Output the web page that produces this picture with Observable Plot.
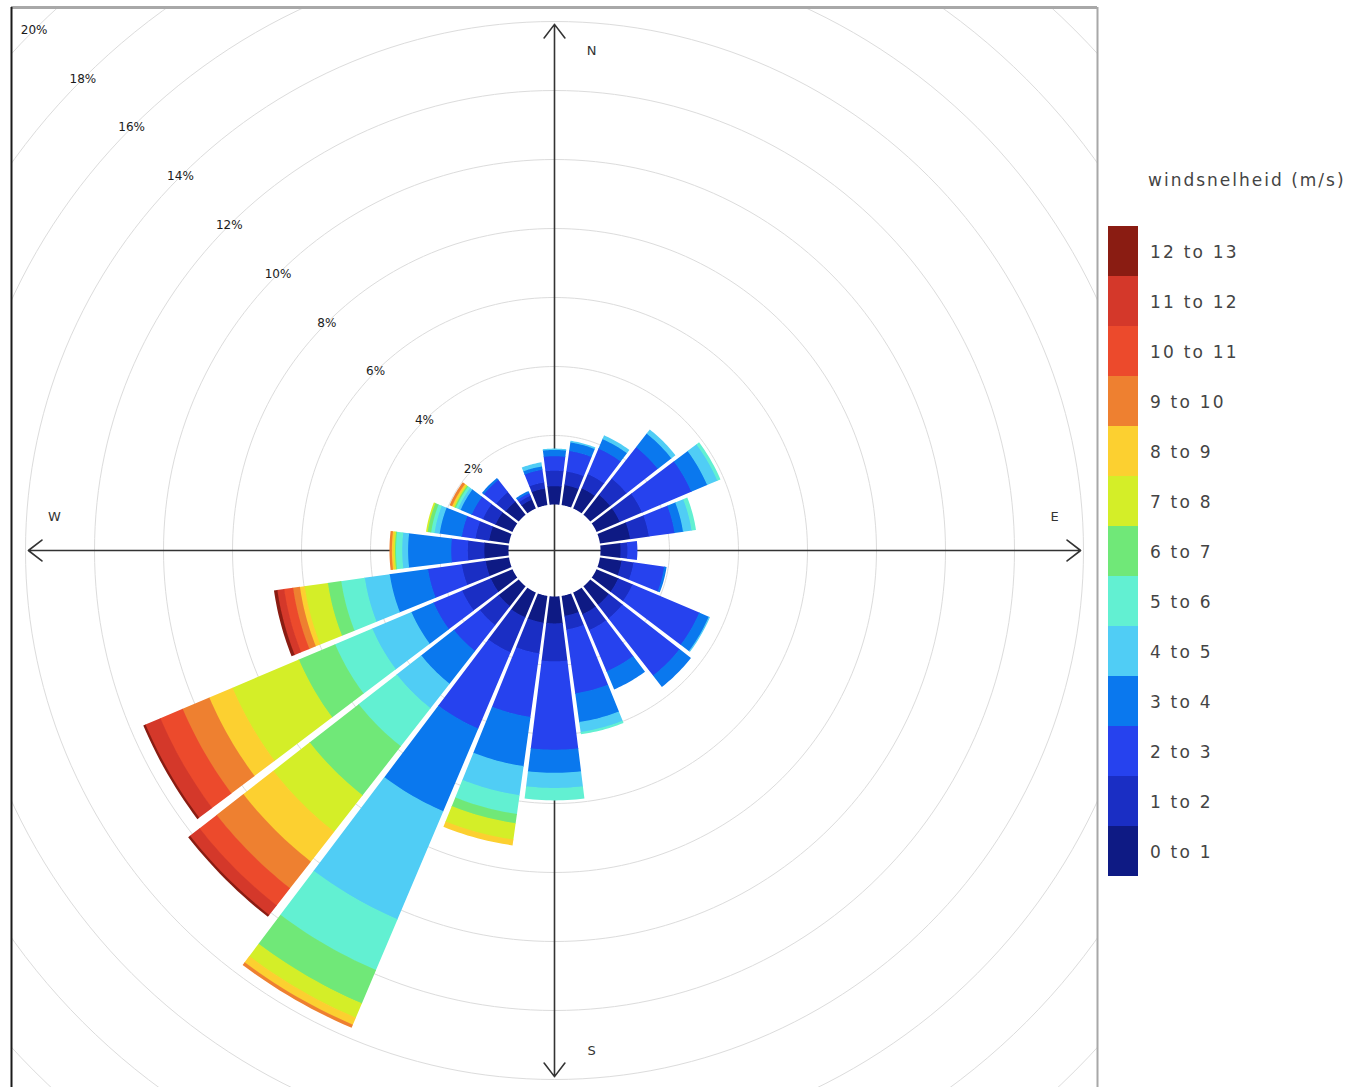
<!DOCTYPE html>
<html>
<head>
<meta charset="utf-8">
<script src="https://cdn.jsdelivr.net/npm/d3@7"></script>
<script src="https://cdn.jsdelivr.net/npm/@observablehq/plot@0.6"></script>
<style>
  html, body { margin: 0; padding: 0; background: #fff; }
  #wrap { position: relative; width: 1350px; height: 1087px; overflow: hidden; font-family: "DejaVu Sans", sans-serif; }
  #chart { position: absolute; left: 0; top: 0; }
  #legend { position: absolute; left: 0; top: 0; width: 1350px; height: 1087px; pointer-events: none; }
  .lg-title { position: absolute; left: 1148px; top: 172px; font-size: 17px; letter-spacing: 2px; color: #444; white-space: nowrap; line-height: 1; }
  .lg-box { position: absolute; left: 1108px; width: 30px; height: 50px; }
  .lg-lab { position: absolute; left: 1150px; font-size: 17px; letter-spacing: 2.2px; color: #444; white-space: nowrap; line-height: 1; }
</style>
</head>
<body>
<div id="wrap"><div id="chart"></div><div id="legend"></div></div>
<script>
// ---------------- data ----------------
const directions = [15,30,45,60,75,90,105,120,135,150,165,180,195,210,225,240,255,270,285,300,315,330,345,360];
const speedBins = ["0 to 1","1 to 2","2 to 3","3 to 4","4 to 5","5 to 6","6 to 7","7 to 8","8 to 9","9 to 10","10 to 11","11 to 12","12 to 13"];
const binColors = ["#0e1a84","#1a2ec4","#2642ee","#0a78ee","#50cdf5","#62f0d2","#70e878","#d4ee28","#fcd030","#ee8030","#ec4a2c","#d4382a","#8a1c12"];

// frequency (%) per direction, one array per speed bin
const freq0to1   = [0.6,0.65,0.75,0.75,0.9,0.6,0.65,0.7,0.7,0.7,0.6,0.8,0.8,0.8,0.75,0.7,0.7,0.72,0.6,0.55,0.5,0.3,0.5,0.55];
const freq1to2   = [0.4,0.45,0.6,0.7,0.55,0.2,0.35,0.45,0.5,0.5,0.4,1.1,0.9,1.1,0.7,0.9,0.7,0.48,0.4,0.4,0.35,0.12,0.18,0.45];
const freq2to3   = [0.6,0.8,1.15,1.55,0.75,0.27,0.9,2.1,2.1,1.3,1.87,2.56,1.86,2.4,0.95,0.9,0.99,0.48,0.4,0.35,0.45,0.08,0.37,0.42];
const freq3to4   = [0.25,0.3,0.5,0.5,0.25,0,0.05,0.3,0.4,0.55,0.84,0.67,1.44,2.6,1.2,0.7,1.12,1.25,0.65,0.35,0.05,0.05,0.1,0.18];
const freq4to5   = [0.03,0.1,0.13,0.32,0.25,0,0,0.02,0,0,0.29,0.44,0.85,3.4,0.9,1.23,0.73,0.17,0.15,0.08,0,0,0.1,0.02];
const freq5to6   = [0,0,0,0.08,0.11,0,0,0,0,0,0.05,0.34,0.55,1.6,1.4,1.17,0.69,0.18,0.1,0.07,0,0,0,0];
const freq6to7   = [0,0,0,0,0,0,0,0,0,0,0,0,0.27,1.05,1.8,1.14,0.39,0.03,0.1,0.04,0,0,0,0];
const freq7to8   = [0,0,0,0,0,0,0,0,0,0,0,0,0.48,0.45,1.34,2.09,0.68,0.04,0.03,0.03,0,0,0,0];
const freq8to9   = [0,0,0,0,0,0,0,0,0,0,0,0,0.15,0.22,1.1,0.73,0.14,0.05,0,0.05,0,0,0,0];
const freq9to10  = [0,0,0,0,0,0,0,0,0,0,0,0,0,0.08,0.98,0.84,0.2,0.05,0,0.06,0,0,0,0];
const freq10to11 = [0,0,0,0,0,0,0,0,0,0,0,0,0,0,0.63,0.7,0.26,0,0,0,0,0,0,0];
const freq11to12 = [0,0,0,0,0,0,0,0,0,0,0,0,0,0,0.35,0.47,0.2,0,0,0,0,0,0,0];
const freq12to13 = [0,0,0,0,0,0,0,0,0,0,0,0,0,0,0.05,0.05,0.08,0,0,0,0,0,0,0];

const percentTicks = [2,4,6,8,10,12,14,16,18,20];
const compass = [{label:"N", angle:0},{label:"E", angle:90},{label:"S", angle:180},{label:"W", angle:270}];
const legendTitle = "windsnelheid (m/s)";

// ---------------- layout ----------------
const W = 1100, H = 1087;
const CX = 554, CY = 550;          // centre of the rose, px
const UNIT = 34.5;                 // px per 1 %
const mL = 11, mR = 3, mT = 7, mB = 0;
const HOLE = 46 / UNIT;            // inner offset, in % units
const HALF = (7.5 - 0.45) * Math.PI / 180;
const HALFGAP = 0.75 / UNIT;
const AXIS_LEN = 15.25;
const rad = d => d * Math.PI / 180;

const freqByBin = [freq0to1,freq1to2,freq2to3,freq3to4,freq4to5,freq5to6,freq6to7,freq7to8,freq8to9,freq9to10,freq10to11,freq11to12,freq12to13];

// stacked segments
const segments = [];
directions.forEach((dir, i) => {
  let cum = 0;
  freqByBin.forEach((arr, b) => {
    const v = arr[i];
    if (v > 0) { segments.push({dir, bin: speedBins[b], p0: cum, p1: cum + v}); cum += v; }
  });
});

// wedge polygons in data (percent) space
const wedgePts = [];
segments.forEach((s, id) => {
  const r0 = HOLE + Math.max(0, s.p0 - 0.02), r1 = HOLE + s.p1;
  const t = rad(s.dir);
  const d1 = Math.asin(HALFGAP / r1), d0 = Math.asin(HALFGAP / r0);
  const n = 14;
  for (let k = 0; k <= n; k++) {
    const a = t - HALF + d1 + (2 * HALF - 2 * d1) * k / n;
    wedgePts.push({id, bin: s.bin, x: r1 * Math.sin(a), y: r1 * Math.cos(a)});
  }
  for (let k = n; k >= 0; k--) {
    const a = t - HALF + d0 + (2 * HALF - 2 * d0) * k / n;
    wedgePts.push({id, bin: s.bin, x: r0 * Math.sin(a), y: r0 * Math.cos(a)});
  }
});

// grid circles
const circlePts = percentTicks.flatMap(p => d3.range(0, 361, 1.5).map(a => ({
  p, x: (HOLE + p) * Math.sin(rad(a)), y: (HOLE + p) * Math.cos(rad(a))
})));

const tickLabels = percentTicks.map(p => ({
  text: p + "%", x: -(HOLE + p) * Math.SQRT1_2, y: (HOLE + p) * Math.SQRT1_2
}));

const axes = compass.map(c => ({x2: AXIS_LEN * Math.sin(rad(c.angle)), y2: AXIS_LEN * Math.cos(rad(c.angle))}));
const LABR = 500 / UNIT;
const nsLabels = compass.filter(c => c.angle % 180 === 0).map(c => ({label: c.label, x: 0, y: LABR * Math.cos(rad(c.angle))}));
const ewLabels = compass.filter(c => c.angle % 180 !== 0).map(c => ({label: c.label, x: LABR * Math.sin(rad(c.angle)), y: 0}));

const xDom = [(mL - CX) / UNIT, (W - mR - CX) / UNIT];
const yDom = [(CY - (H - mB)) / UNIT, (CY - mT) / UNIT];

const chart = Plot.plot({
  width: W, height: H,
  marginLeft: mL, marginRight: mR, marginTop: mT, marginBottom: mB,
  style: {fontFamily: "DejaVu Sans, sans-serif", background: "white", overflow: "visible"},
  x: {domain: xDom, axis: null},
  y: {domain: yDom, axis: null},
  color: {type: "ordinal", domain: speedBins, range: binColors, legend: false},
  marks: [
    Plot.line(circlePts, {x: "x", y: "y", z: "p", stroke: "#dcdcdc", strokeWidth: 1, clip: true}),
    Plot.arrow(axes, {x1: d => 0, y1: d => 0, x2: "x2", y2: "y2", stroke: "#333", strokeWidth: 1.6, headLength: 16, headAngle: 75, insetStart: 0, insetEnd: 0}),
    Plot.line(wedgePts, {x: "x", y: "y", z: "id", fill: "bin", stroke: "none", curve: "linear-closed"}),
    Plot.text(tickLabels, {x: "x", y: "y", text: "text", fill: "#1a1a1a", fontSize: 12}),
    Plot.text(nsLabels, {x: "x", y: "y", text: "label", dx: 37, fill: "#333", fontSize: 13}),
    Plot.text(ewLabels, {x: "x", y: "y", text: "label", dy: -34, fill: "#333", fontSize: 13}),
    Plot.ruleY([yDom[1]], {stroke: "#a8a8a8", strokeWidth: 3}),
    Plot.ruleX([xDom[0]], {stroke: "#1a1a1a", strokeWidth: 2}),
    Plot.ruleX([xDom[1]], {stroke: "#a8a8a8", strokeWidth: 2})
  ]
});
document.getElementById("chart").appendChild(chart);

// ---------------- legend ----------------
const lg = document.getElementById("legend");
const title = document.createElement("div");
title.className = "lg-title";
title.textContent = legendTitle;
lg.appendChild(title);
const LG_TOP = 226, LG_H = 50;
speedBins.slice().reverse().forEach((b, i) => {
  const box = document.createElement("div");
  box.className = "lg-box";
  box.style.top = (LG_TOP + i * LG_H) + "px";
  box.style.background = binColors[speedBins.indexOf(b)];
  lg.appendChild(box);
  const lab = document.createElement("div");
  lab.className = "lg-lab";
  lab.style.top = (LG_TOP + i * LG_H + 18) + "px";
  lab.textContent = b;
  lg.appendChild(lab);
});
</script>
</body>
</html>
